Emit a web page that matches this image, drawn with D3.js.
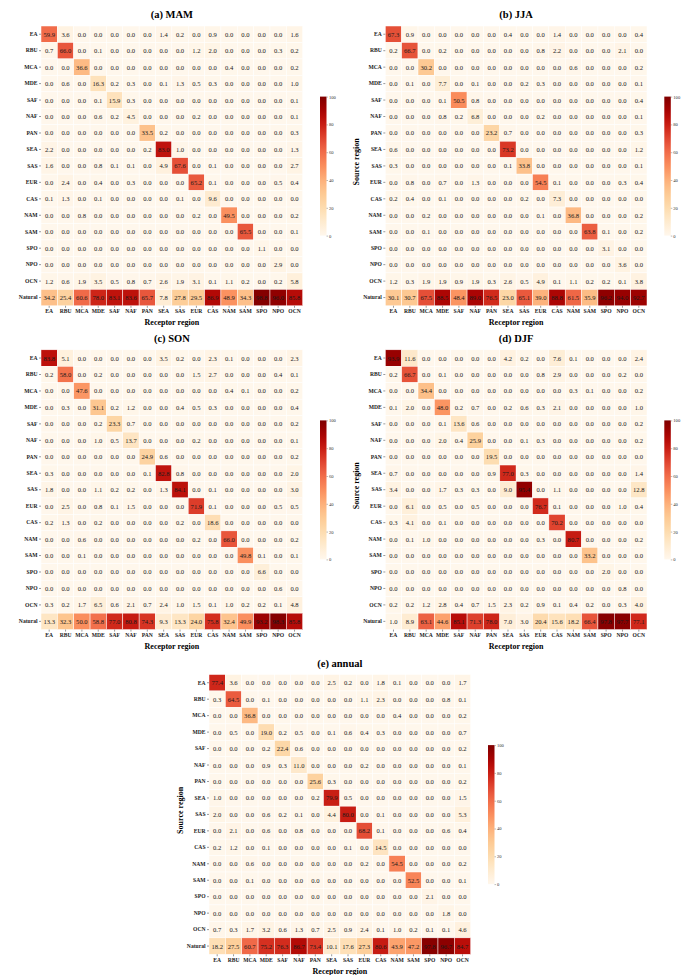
<!DOCTYPE html>
<html><head><meta charset="utf-8">
<script src="https://cdn.jsdelivr.net/npm/d3@7"></script>
<style>body{margin:0;background:#fff}svg{display:block}text{font-family:"Liberation Serif","Times New Roman",serif}</style>
</head><body><svg id="c" width="687" height="975"></svg>
<script>
const receptors = ["EA","RBU","MCA","MDE","SAF","NAF","PAN","SEA","SAS","EUR","CAS","NAM","SAM","SPO","NPO","OCN"];
const sources = ["EA","RBU","MCA","MDE","SAF","NAF","PAN","SEA","SAS","EUR","CAS","NAM","SAM","SPO","NPO","OCN","Natural"];
const cbTicks = [0,20,40,60,80,100];

const mam = [
[59.9,3.6,0.0,0.0,0.0,0.0,0.0,1.4,0.2,0.0,0.9,0.0,0.0,0.0,0.0,1.6],
[0.7,66.0,0.0,0.1,0.0,0.0,0.0,0.0,0.0,1.2,2.0,0.0,0.0,0.0,0.3,0.2],
[0.0,0.0,36.6,0.0,0.0,0.0,0.0,0.0,0.0,0.0,0.0,0.4,0.0,0.0,0.0,0.2],
[0.0,0.6,0.0,16.3,0.2,0.3,0.0,0.1,1.3,0.5,0.3,0.0,0.0,0.0,0.0,1.0],
[0.0,0.0,0.0,0.1,15.9,0.3,0.0,0.0,0.0,0.0,0.0,0.0,0.0,0.0,0.0,0.1],
[0.0,0.0,0.0,0.6,0.2,4.5,0.0,0.0,0.0,0.2,0.0,0.0,0.0,0.0,0.0,0.1],
[0.0,0.0,0.0,0.0,0.0,0.0,33.5,0.2,0.0,0.0,0.0,0.0,0.0,0.0,0.0,0.3],
[2.2,0.0,0.0,0.0,0.0,0.0,0.2,83.0,1.0,0.0,0.0,0.0,0.0,0.0,0.0,1.3],
[1.6,0.0,0.0,0.8,0.1,0.1,0.0,4.9,67.6,0.0,0.1,0.0,0.0,0.0,0.0,2.7],
[0.0,2.4,0.0,0.4,0.0,0.3,0.0,0.0,0.0,65.2,0.1,0.0,0.0,0.0,0.5,0.4],
[0.1,1.3,0.0,0.1,0.0,0.0,0.0,0.0,0.1,0.0,9.6,0.0,0.0,0.0,0.0,0.0],
[0.0,0.0,0.8,0.0,0.0,0.0,0.0,0.0,0.0,0.2,0.0,49.5,0.0,0.0,0.0,0.2],
[0.0,0.0,0.0,0.0,0.0,0.0,0.0,0.0,0.0,0.0,0.0,0.0,65.5,0.0,0.0,0.1],
[0.0,0.0,0.0,0.0,0.0,0.0,0.0,0.0,0.0,0.0,0.0,0.0,0.0,1.1,0.0,0.0],
[0.0,0.0,0.0,0.0,0.0,0.0,0.0,0.0,0.0,0.0,0.0,0.0,0.0,0.0,2.9,0.0],
[1.2,0.6,1.9,3.5,0.5,0.8,0.7,2.6,1.9,3.1,0.1,1.1,0.2,0.0,0.2,5.8],
[34.2,25.4,60.6,78.0,83.1,83.6,65.7,7.8,27.8,29.5,86.9,48.9,34.3,98.8,96.0,85.8]];

const jja = [
[67.3,0.9,0.0,0.0,0.0,0.0,0.0,0.4,0.0,0.0,1.4,0.0,0.0,0.0,0.0,0.4],
[0.2,66.7,0.0,0.2,0.0,0.0,0.0,0.0,0.0,0.8,2.2,0.0,0.0,0.0,2.1,0.0],
[0.0,0.0,30.2,0.0,0.0,0.0,0.0,0.0,0.0,0.0,0.0,0.6,0.0,0.0,0.0,0.2],
[0.0,0.1,0.0,7.7,0.0,0.1,0.0,0.0,0.2,0.3,0.0,0.0,0.0,0.0,0.0,0.1],
[0.0,0.0,0.0,0.1,50.5,0.8,0.0,0.0,0.0,0.0,0.0,0.0,0.0,0.0,0.0,0.4],
[0.0,0.0,0.0,0.8,0.2,6.8,0.0,0.0,0.0,0.2,0.0,0.0,0.0,0.0,0.0,0.1],
[0.0,0.0,0.0,0.0,0.0,0.0,23.2,0.7,0.0,0.0,0.0,0.0,0.0,0.0,0.0,0.3],
[0.6,0.0,0.0,0.0,0.0,0.0,0.0,73.2,0.0,0.0,0.0,0.0,0.0,0.0,0.0,1.2],
[0.3,0.0,0.0,0.0,0.0,0.0,0.0,0.1,33.8,0.0,0.0,0.0,0.0,0.0,0.0,0.1],
[0.0,0.8,0.0,0.7,0.0,1.3,0.0,0.0,0.0,54.5,0.1,0.0,0.0,0.0,0.3,0.4],
[0.2,0.4,0.0,0.1,0.0,0.0,0.0,0.0,0.2,0.0,7.3,0.0,0.0,0.0,0.0,0.0],
[0.0,0.0,0.2,0.0,0.0,0.0,0.0,0.0,0.0,0.1,0.0,36.8,0.0,0.0,0.0,0.2],
[0.0,0.0,0.1,0.0,0.0,0.0,0.0,0.0,0.0,0.0,0.0,0.0,63.8,0.1,0.0,0.2],
[0.0,0.0,0.0,0.0,0.0,0.0,0.0,0.0,0.0,0.0,0.0,0.0,0.0,3.1,0.0,0.0],
[0.0,0.0,0.0,0.0,0.0,0.0,0.0,0.0,0.0,0.0,0.0,0.0,0.0,0.0,3.6,0.0],
[1.2,0.3,1.9,1.9,0.9,1.9,0.3,2.6,0.5,4.9,0.1,1.1,0.2,0.2,0.1,3.8],
[30.1,30.7,67.5,88.5,48.4,89.0,76.5,23.0,65.1,39.0,88.8,61.5,35.9,96.2,94.0,92.7]];

const son = [
[83.8,5.1,0.0,0.0,0.0,0.0,0.0,3.5,0.2,0.0,2.3,0.1,0.0,0.0,0.0,2.3],
[0.2,58.0,0.0,0.2,0.0,0.0,0.0,0.0,0.0,1.5,2.7,0.0,0.0,0.0,0.4,0.1],
[0.0,0.0,47.6,0.0,0.0,0.0,0.0,0.0,0.0,0.0,0.0,0.4,0.1,0.0,0.0,0.2],
[0.0,0.3,0.0,31.1,0.2,1.2,0.0,0.0,0.4,0.5,0.3,0.0,0.0,0.0,0.0,0.4],
[0.0,0.0,0.0,0.2,23.3,0.7,0.0,0.0,0.0,0.0,0.0,0.0,0.0,0.0,0.0,0.2],
[0.0,0.0,0.0,1.0,0.5,13.7,0.0,0.0,0.0,0.2,0.0,0.0,0.0,0.0,0.0,0.1],
[0.0,0.0,0.0,0.0,0.0,0.0,24.9,0.6,0.0,0.0,0.0,0.0,0.0,0.0,0.0,0.2],
[0.3,0.0,0.0,0.0,0.0,0.0,0.1,82.8,0.8,0.0,0.0,0.0,0.0,0.0,0.0,2.0],
[1.8,0.0,0.0,1.1,0.2,0.2,0.0,1.3,84.1,0.0,0.1,0.0,0.0,0.0,0.0,3.0],
[0.0,2.5,0.0,0.8,0.1,1.5,0.0,0.0,0.0,71.9,0.1,0.0,0.0,0.0,0.5,0.5],
[0.2,1.3,0.0,0.2,0.0,0.0,0.0,0.0,0.2,0.0,18.6,0.0,0.0,0.0,0.0,0.0],
[0.0,0.0,0.6,0.0,0.0,0.0,0.0,0.0,0.0,0.2,0.0,66.0,0.0,0.0,0.0,0.2],
[0.0,0.0,0.1,0.0,0.0,0.0,0.0,0.0,0.0,0.0,0.0,0.0,49.8,0.1,0.0,0.1],
[0.0,0.0,0.0,0.0,0.0,0.0,0.0,0.0,0.0,0.0,0.0,0.0,0.0,6.6,0.0,0.0],
[0.0,0.0,0.0,0.0,0.0,0.0,0.0,0.0,0.0,0.0,0.0,0.0,0.0,0.0,0.6,0.0],
[0.3,0.2,1.7,6.5,0.6,2.1,0.7,2.4,1.0,1.5,0.1,1.0,0.2,0.2,0.1,4.8],
[13.3,32.3,50.0,58.8,77.0,80.8,74.3,9.3,13.3,24.0,75.8,32.4,49.9,93.2,98.3,85.8]];

const djf = [
[93.9,11.6,0.0,0.0,0.0,0.0,0.0,4.2,0.2,0.0,7.6,0.1,0.0,0.0,0.0,2.4],
[0.2,66.7,0.0,0.1,0.0,0.0,0.0,0.0,0.0,0.8,2.9,0.0,0.0,0.0,0.2,0.0],
[0.0,0.0,34.4,0.0,0.0,0.0,0.0,0.0,0.0,0.0,0.0,0.3,0.1,0.0,0.0,0.2],
[0.1,2.0,0.0,48.0,0.2,0.7,0.0,0.2,0.6,0.3,2.1,0.0,0.0,0.0,0.0,1.0],
[0.0,0.0,0.0,0.1,13.6,0.6,0.0,0.0,0.0,0.0,0.0,0.0,0.0,0.0,0.0,0.2],
[0.0,0.0,0.0,2.0,0.4,25.9,0.0,0.0,0.1,0.3,0.0,0.0,0.0,0.0,0.0,0.2],
[0.0,0.0,0.0,0.0,0.0,0.0,19.5,0.0,0.0,0.0,0.0,0.0,0.0,0.0,0.0,0.0],
[0.7,0.0,0.0,0.0,0.0,0.0,0.9,77.0,0.3,0.0,0.0,0.0,0.0,0.0,0.0,1.4],
[3.4,0.0,0.0,1.7,0.3,0.3,0.0,9.0,95.4,0.0,1.1,0.0,0.0,0.0,0.0,12.8],
[0.0,6.1,0.0,0.5,0.0,0.5,0.0,0.0,0.0,76.7,0.1,0.0,0.0,0.0,1.0,0.4],
[0.3,4.1,0.0,0.1,0.0,0.0,0.0,0.0,0.0,0.0,70.2,0.0,0.0,0.0,0.0,0.0],
[0.0,0.1,1.0,0.0,0.0,0.0,0.0,0.0,0.0,0.3,0.0,80.7,0.0,0.0,0.0,0.2],
[0.0,0.0,0.0,0.0,0.0,0.0,0.0,0.0,0.0,0.0,0.0,0.0,33.2,0.0,0.0,0.0],
[0.0,0.0,0.0,0.0,0.0,0.0,0.0,0.0,0.0,0.0,0.0,0.0,0.0,2.0,0.0,0.0],
[0.0,0.0,0.0,0.0,0.0,0.0,0.0,0.0,0.0,0.0,0.0,0.0,0.0,0.0,0.8,0.0],
[0.2,0.2,1.2,2.8,0.4,0.7,1.5,2.3,0.2,0.9,0.1,0.4,0.2,0.0,0.3,4.0],
[1.0,8.9,63.1,44.6,85.1,71.3,78.0,7.0,3.0,20.4,15.6,18.2,66.4,97.8,97.7,77.1]];

const annual = [
[77.4,3.6,0.0,0.0,0.0,0.0,0.0,2.5,0.2,0.0,1.8,0.1,0.0,0.0,0.0,1.7],
[0.3,64.5,0.0,0.1,0.0,0.0,0.0,0.0,0.0,1.1,2.3,0.0,0.0,0.0,0.8,0.1],
[0.0,0.0,36.8,0.0,0.0,0.0,0.0,0.0,0.0,0.0,0.0,0.4,0.0,0.0,0.0,0.2],
[0.0,0.5,0.0,19.0,0.2,0.5,0.0,0.1,0.6,0.4,0.3,0.0,0.0,0.0,0.0,0.7],
[0.0,0.0,0.0,0.2,22.4,0.6,0.0,0.0,0.0,0.0,0.0,0.0,0.0,0.0,0.0,0.2],
[0.0,0.0,0.0,0.9,0.3,11.0,0.0,0.0,0.0,0.2,0.0,0.0,0.0,0.0,0.0,0.1],
[0.0,0.0,0.0,0.0,0.0,0.0,25.6,0.3,0.0,0.0,0.0,0.0,0.0,0.0,0.0,0.2],
[1.0,0.0,0.0,0.0,0.0,0.0,0.2,79.9,0.5,0.0,0.0,0.0,0.0,0.0,0.0,1.5],
[2.0,0.0,0.0,0.6,0.2,0.1,0.0,4.4,80.0,0.0,0.1,0.0,0.0,0.0,0.0,5.3],
[0.0,2.1,0.0,0.6,0.0,0.8,0.0,0.0,0.0,68.2,0.1,0.0,0.0,0.0,0.6,0.4],
[0.2,1.2,0.0,0.1,0.0,0.0,0.0,0.0,0.1,0.0,14.5,0.0,0.0,0.0,0.0,0.0],
[0.0,0.0,0.6,0.0,0.0,0.0,0.0,0.0,0.0,0.2,0.0,54.5,0.0,0.0,0.0,0.2],
[0.0,0.0,0.1,0.0,0.0,0.0,0.0,0.0,0.0,0.0,0.0,0.0,52.5,0.0,0.0,0.1],
[0.0,0.0,0.0,0.0,0.0,0.0,0.0,0.0,0.0,0.0,0.0,0.0,0.0,2.1,0.0,0.0],
[0.0,0.0,0.0,0.0,0.0,0.0,0.0,0.0,0.0,0.0,0.0,0.0,0.0,0.0,1.8,0.0],
[0.7,0.3,1.7,3.2,0.6,1.3,0.7,2.5,0.9,2.4,0.1,1.0,0.2,0.1,0.1,4.6],
[18.2,27.5,60.7,75.2,76.3,86.7,73.4,10.1,17.6,27.3,80.6,43.9,47.2,97.8,96.7,84.7]];

const titles = ["(a) MAM","(b) JJA","(c) SON","(d) DJF","(e) annual"];
const datasets = [mam, jja, son, djf, annual];

const layout = [
  {x:41,   y:26,  ylab:false},
  {x:385.3,y:26,  ylab:true},
  {x:41,   y:349.8, ylab:false},
  {x:385.3,y:349.8, ylab:true},
  {x:209,  y:674.5, ylab:true}
];
const W = 261.7, H = 279.8;
const color = d3.scaleSequential(d3.interpolateOrRd).domain([0,100]);
const svg = d3.select("#c");

const defs = svg.append("defs");
const grad = defs.append("linearGradient").attr("id","cb").attr("x1",0).attr("x2",0).attr("y1",1).attr("y2",0);
d3.range(0,1.0001,0.05).forEach(t=>grad.append("stop").attr("offset",t).attr("stop-color",color(t*100)));

datasets.forEach((data, k) => {
  const L = layout[k];
  const g = svg.append("g").attr("transform",`translate(${L.x},${L.y})`);
  const x = d3.scaleBand().domain(receptors).range([0,W]);
  const y = d3.scaleBand().domain(sources).range([0,H]);
  const cells = [];
  data.forEach((row,i)=>row.forEach((v,j)=>cells.push({s:sources[i], r:receptors[j], v})));
  g.selectAll("rect.cell").data(cells).join("rect").attr("class","cell")
    .attr("x",d=>x(d.r)).attr("y",d=>y(d.s))
    .attr("width",x.bandwidth()).attr("height",y.bandwidth())
    .attr("fill",d=>color(d.v)).attr("stroke","#fff").attr("stroke-width",0.5);
  g.selectAll("text.val").data(cells).join("text").attr("class","val")
    .attr("x",d=>x(d.r)+x.bandwidth()/2).attr("y",d=>y(d.s)+y.bandwidth()/2)
    .attr("text-anchor","middle").attr("dominant-baseline","central")
    .attr("font-size",6.6).attr("fill","#1a1a1a").text(d=>d.v.toFixed(1));

  // axes
  const xa = g.append("g").attr("transform",`translate(0,${H})`)
    .call(d3.axisBottom(x).tickSize(2).tickPadding(1.5));
  const ya = g.append("g").call(d3.axisLeft(y).tickSize(2).tickPadding(1.5));
  [xa,ya].forEach(a=>{
    a.select(".domain").remove();
    a.selectAll(".tick line").attr("stroke","#333").attr("stroke-width",0.5);
    a.selectAll(".tick text").attr("font-family","Liberation Serif, serif")
      .attr("font-size",5.6).attr("font-weight","bold").attr("fill","#222");
  });
  g.append("text").attr("x",W/2).attr("y",H+19.5).attr("text-anchor","middle")
    .attr("font-size",8).attr("font-weight","bold").text("Receptor region");
  if (L.ylab) {
    g.append("text").attr("transform",`translate(-26,${H/2-4}) rotate(-90)`)
      .attr("text-anchor","middle").attr("font-size",8).attr("font-weight","bold").text("Source region");
  }
  g.append("text").attr("x",W/2).attr("y",-8).attr("text-anchor","middle")
    .attr("font-size",10.5).attr("font-weight","bold").text(titles[k]);

  // colorbar
  const cbx = W+17.3, cby = 70.6, cbh = 139, cbw = 6.5;
  const cs = d3.scaleLinear().domain([0,100]).range([cby+cbh, cby]);
  g.append("rect").attr("x",cbx).attr("y",cby).attr("width",cbw).attr("height",cbh).attr("fill","url(#cb)");
  const ca = g.append("g").attr("transform",`translate(${cbx+cbw},0)`)
    .call(d3.axisRight(cs).tickValues(cbTicks).tickSize(1.5).tickPadding(1));
  ca.select(".domain").remove();
  ca.selectAll(".tick line").attr("stroke","#555").attr("stroke-width",0.4);
  ca.selectAll(".tick text").attr("font-family","Liberation Serif, serif").attr("font-size",4.6).attr("fill","#333");
});
</script></body></html>
